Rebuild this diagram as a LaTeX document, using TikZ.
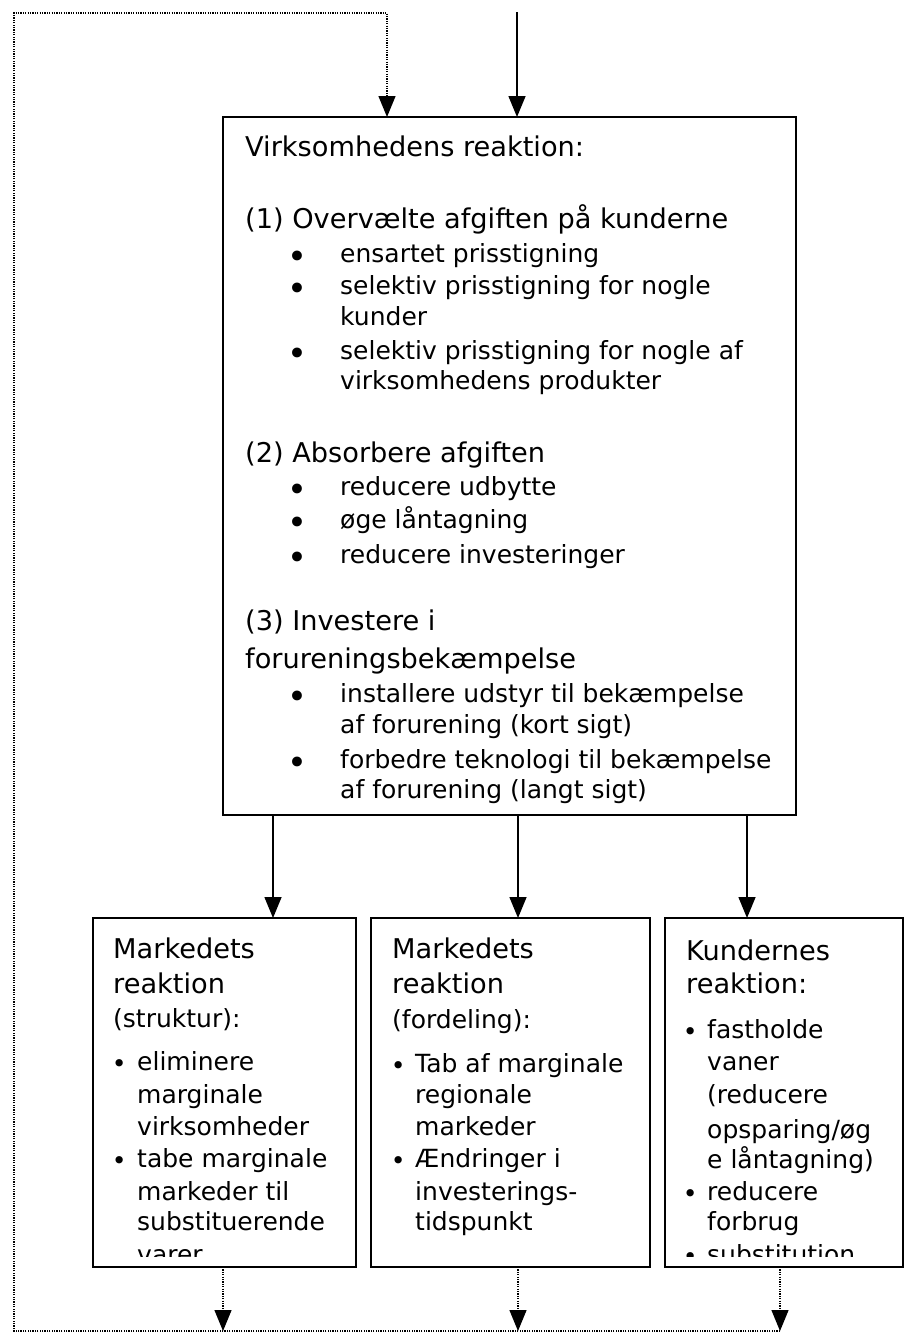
\documentclass[tikz,border=0pt]{standalone}
\usepackage{fontspec}
\setmainfont{DejaVu Sans}
\usetikzlibrary{arrows.meta}
\newcommand{\bul}[1]{\llap{\makebox[0pt]{\raisebox{-2.5pt}{•}}\hspace{#1}}}
\newcommand{\bigbul}[1]{\llap{\makebox[0pt]{\raisebox{-6pt}{\scalebox{1.35}{•}}}\hspace{#1}}}
\begin{document}
\begin{tikzpicture}[x=1pt,y=-1pt,
  box/.style={draw, line width=1.8pt, anchor=north west, inner sep=0pt, outer sep=0pt},
  hd/.style={anchor=base west, inner sep=0pt, font=\fontsize{27.2}{32}\selectfont},
  bt/.style={anchor=base west, inner sep=0pt, font=\fontsize{25}{30}\selectfont},
  arr/.style={line width=1.5pt, -{Triangle[width=17pt,length=21pt]}},
  dots/.style={line width=1.3pt, dash pattern=on 1.2pt off 1.2pt},
  dotarr/.style={dots, -{Triangle[width=17pt,length=21pt]}},
]
\useasboundingbox (0,0) rectangle (904,1333);

% boxes
\node[box, minimum width=573pt, minimum height=698pt] (main) at (223,117) {};
\node[box, minimum width=263pt, minimum height=349pt] (b1) at (93,918) {};
\node[box, minimum width=279pt, minimum height=349pt] (b2) at (371,918) {};
\node[box, minimum width=238pt, minimum height=349pt] (b3) at (665,918) {};

% main box text
\node[hd] (t0) at (245,156) {Virksomhedens reaktion:};
\node[hd] (t1) at (245,228) {(1) Overvælte afgiften på kunderne};
\node[bt] (t1a) at (340,262) {\bigbul{43pt}ensartet prisstigning};
\node[bt] (t1b) at (340,294) {\bigbul{43pt}selektiv prisstigning for nogle};
\node[bt] (t1c) at (340,325) {kunder};
\node[bt] (t1d) at (340,359) {\bigbul{43pt}selektiv prisstigning for nogle af};
\node[bt] (t1e) at (340,389) {virksomhedens produkter};
\node[hd] (t2) at (245,462) {(2) Absorbere afgiften};
\node[bt] (t2a) at (340,495) {\bigbul{43pt}reducere udbytte};
\node[bt] (t2b) at (340,528) {\bigbul{43pt}øge låntagning};
\node[bt] (t2c) at (340,563) {\bigbul{43pt}reducere investeringer};
\node[hd] (t3) at (245,630) {(3) Investere i};
\node[hd] (t3x) at (245,668) {forureningsbekæmpelse};
\node[bt] (t3a) at (340,702) {\bigbul{43pt}installere udstyr til bekæmpelse};
\node[bt] (t3b) at (340,733) {af forurening (kort sigt)};
\node[bt] (t3c) at (340,768) {\bigbul{43pt}forbedre teknologi til bekæmpelse};
\node[bt] (t3d) at (340,798) {af forurening (langt sigt)};

% bottom boxes text (clipped)
\begin{scope}
\clip (0,900) rectangle (904,1256);
\node[hd] (a0) at (113,958) {Markedets};
\node[hd] (a1) at (113,993) {reaktion};
\node[bt] (a2) at (113,1027) {(struktur):};
\node[bt] (a3) at (137,1070) {\bul{18pt}eliminere};
\node[bt] (a4) at (137,1103) {marginale};
\node[bt] (a5) at (137,1135) {virksomheder};
\node[bt] (a6) at (137,1167) {\bul{18pt}tabe marginale};
\node[bt] (a7) at (137,1200) {markeder til};
\node[bt] (a8) at (137,1230) {substituerende};
\node[bt] (a9) at (137,1263) {varer};

\node[hd] (c0) at (392,958) {Markedets};
\node[hd] (c1) at (392,993) {reaktion};
\node[bt] (c2) at (392,1028) {(fordeling):};
\node[bt] (c3) at (415,1072) {\bul{17pt}Tab af marginale};
\node[bt] (c4) at (415,1103) {regionale};
\node[bt] (c5) at (415,1135) {markeder};
\node[bt] (c6) at (415,1167) {\bul{17pt}Ændringer i};
\node[bt] (c7) at (415,1200) {investerings-};
\node[bt] (c8) at (415,1230) {tidspunkt};

\node[hd] (k0) at (686,960) {Kundernes};
\node[hd] (k1) at (686,993) {reaktion:};
\node[bt] (k2) at (707,1038) {\bul{17pt}fastholde};
\node[bt] (k3) at (707,1070) {vaner};
\node[bt] (k4) at (707,1103) {(reducere};
\node[bt] (k5) at (707,1138) {opsparing/øg};
\node[bt] (k6) at (707,1168) {e låntagning)};
\node[bt] (k7) at (707,1200) {\bul{17pt}reducere};
\node[bt] (k8) at (707,1230) {forbrug};
\node[bt] (k9) at (707,1263) {\bul{17pt}substitution};
\end{scope}

% coordinates
\coordinate (topin) at (517,12);
\coordinate (fbx) at (387,13);
\coordinate (tl) at (14,13);
\coordinate (bl) at (14,1331);
\coordinate (x1) at (273,0);
\coordinate (x2) at (518,0);
\coordinate (x3) at (747,0);
\coordinate (d1) at (223,1331);
\coordinate (d2) at (518,1331);
\coordinate (d3) at (780,1331);

% solid arrows
\draw[arr] (topin) -- (topin |- main.north);
\draw[arr] (main.south -| x1) -- (b1.north -| x1);
\draw[arr] (main.south -| x2) -- (b2.north -| x2);
\draw[arr] (main.south -| x3) -- (b3.north -| x3);

% dotted feedback
\draw[dotarr] (b1.south -| d1) -- (d1);
\draw[dotarr] (b2.south -| d2) -- (d2);
\draw[dotarr] (b3.south -| d3) -- (d3);
\draw[dotarr] (d3) -- (bl) -- (tl) -- (fbx) -- (fbx |- main.north);
\end{tikzpicture}
\end{document}
